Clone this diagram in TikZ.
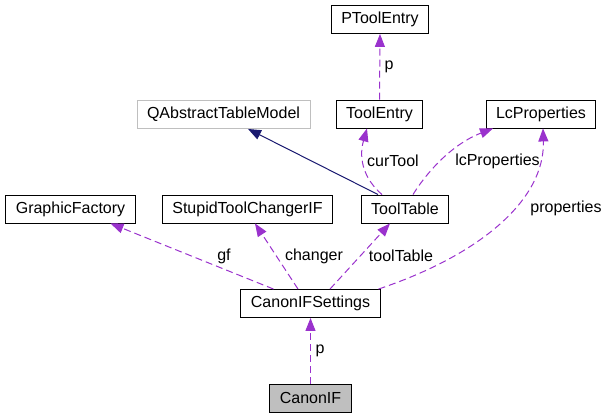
\documentclass[tikz,border=0pt]{standalone}
\usepackage{fontspec}
\setmainfont{Liberation Sans}
\usepackage{tikz}
\usetikzlibrary{arrows.meta}
\definecolor{usecol}{HTML}{9A32CD}
\definecolor{inhcol}{HTML}{191970}
\definecolor{boxgray}{HTML}{BFBFBF}

\begin{document}
\begin{tikzpicture}[x=1pt, y=-1pt,
		cls/.style={draw=black, line width=0.9pt, fill=white, inner xsep=10pt, inner ysep=0pt,
			minimum height=28pt, font=\fontsize{16}{19}\selectfont},
		ext/.style={cls, draw=boxgray},
		cur/.style={cls, fill=boxgray},
		uses/.style={draw=usecol, line width=1pt, dash pattern=on 7pt off 4pt,
			-{Triangle[length=13pt,width=10pt,fill=usecol]}},
		inherits/.style={draw=inhcol, line width=1pt, -{Triangle[length=13pt,width=10pt,fill=inhcol]}},
		lbl/.style={inner sep=0pt, font=\fontsize{16}{19}\selectfont}]
				\useasboundingbox (0,0) rectangle (608,419);

				\node[cls] (ptoolentry) at (380,19.5) {PToolEntry};
				\node[ext] (qabstract) at (223.5,114.5) {QAbstractTableModel};
				\node[cls] (toolentry) at (379.5,114) {ToolEntry};
				\node[cls] (lcproperties) at (541,114) {LcProperties};
				\node[cls] (graphicfactory) at (70.5,209) {GraphicFactory};
				\node[cls] (stupidchanger) at (247.5,209) {StupidToolChangerIF};
				\node[cls] (tooltable) at (405,209) {ToolTable};
				\node[cls] (canonifsettings) at (310.5,303.5) {CanonIFSettings};
				\node[cur] (canonif) at (310.5,398) {CanonIF};

				% members
				\draw[uses] (canonif.north) -- (canonifsettings.south);
				\draw[uses] ([xshift=-37pt]canonifsettings.north) -- ([xshift=40pt]graphicfactory.south);
				\draw[uses] ([xshift=-12.5pt]canonifsettings.north) -- ([xshift=7.5pt]stupidchanger.south);
				\draw[uses] ([xshift=19.5pt]canonifsettings.north) -- ([xshift=-15pt]tooltable.south);
				\draw[uses] ([xshift=-2pt]canonifsettings.north east) .. controls (480,255) and (545,200) .. ([xshift=2pt]lcproperties.south);
				\draw[uses] ([xshift=-23pt]tooltable.north) .. controls (365,180) and (358,160) .. ([xshift=-12.5pt]toolentry.south);
				\draw[uses] ([xshift=8pt]tooltable.north) .. controls (425,175) and (450,145) .. ([xshift=-48pt]lcproperties.south);
				\draw[uses] (toolentry.north) -- (ptoolentry.south);

				% base class
				\draw[inherits] ([xshift=-27pt]tooltable.north) -- ([xshift=24.5pt]qabstract.south);

				\node[lbl] (lblp) at (320,351) {p};
				\node[lbl] (lblgf) at (224,256) {gf};
				\node[lbl] (lblchanger) at (314,256) {changer};
				\node[lbl] (lbltooltable) at (401,256) {toolTable};
				\node[lbl] (lblproperties) at (566,208) {properties};
				\node[lbl] (lblcurtool) at (393,161) {curTool};
				\node[lbl] (lbllcproperties) at (497.5,161) {lcProperties};
				\node[lbl] (lblpentry) at (389,67) {p};
			\end{tikzpicture}
\end{document}
